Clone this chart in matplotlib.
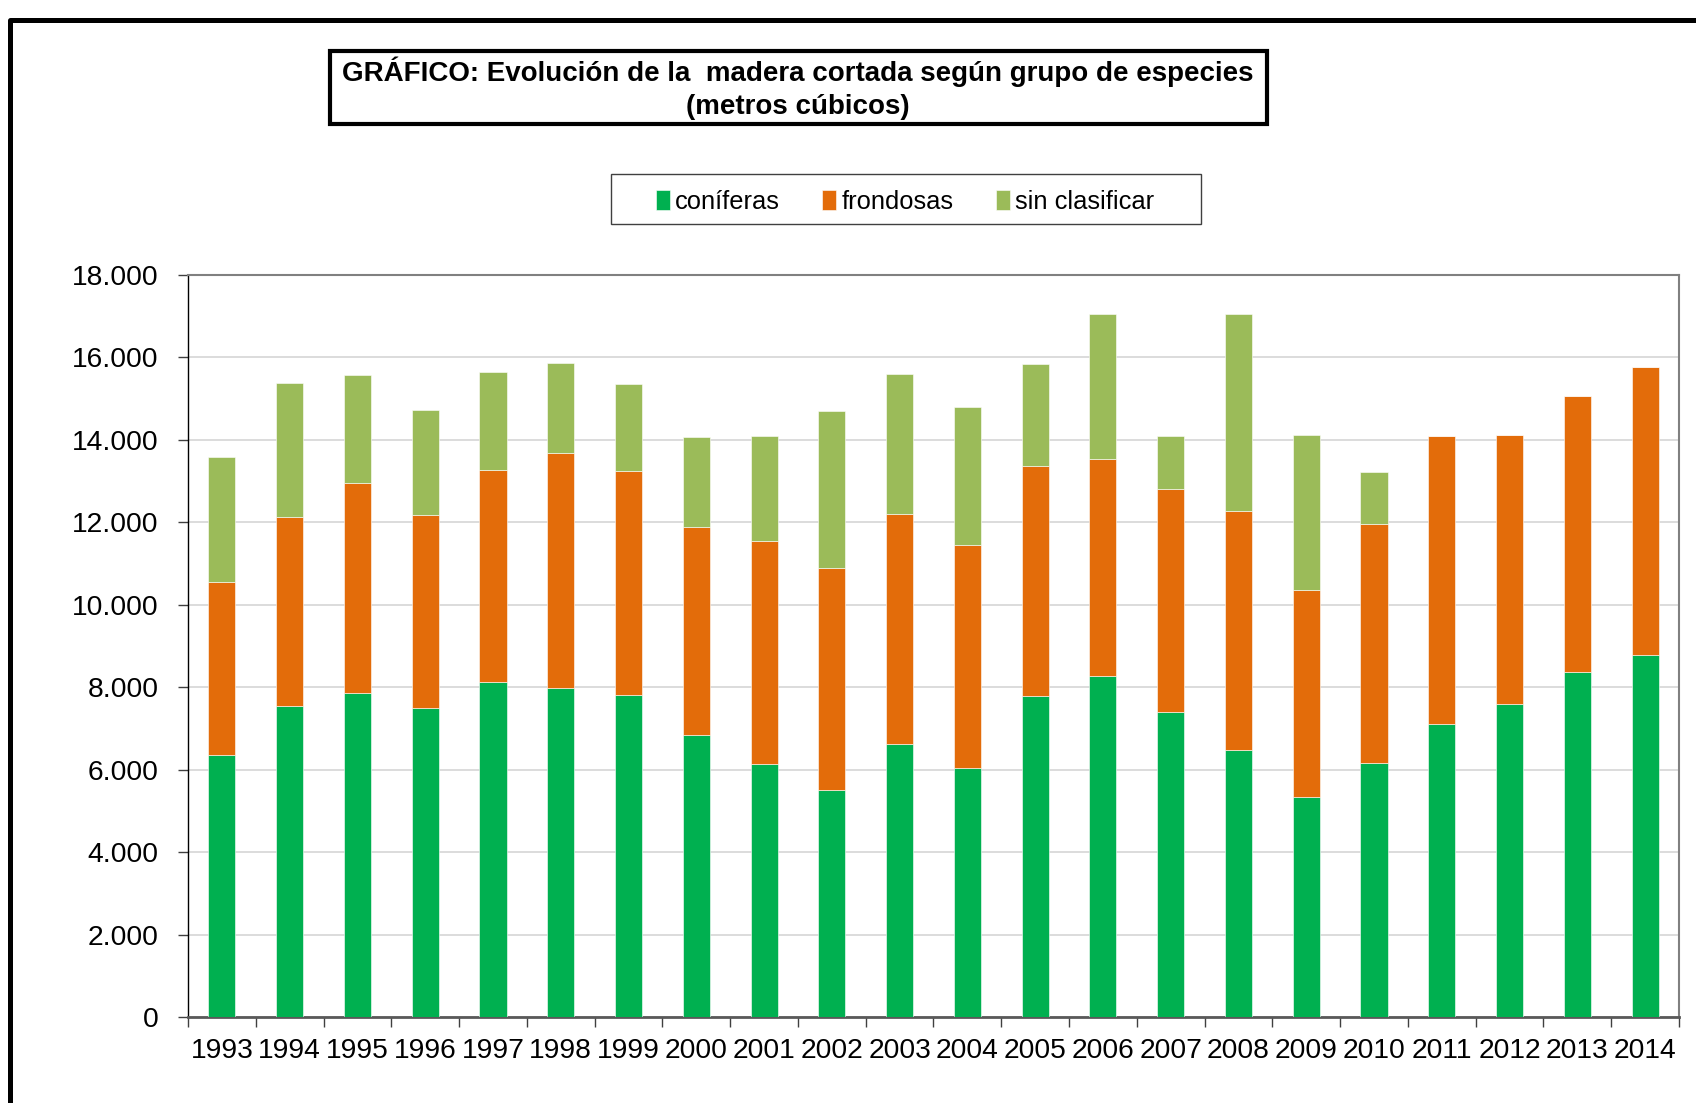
import matplotlib
matplotlib.use('Agg')

import matplotlib.pyplot as plt
import numpy as np
from matplotlib.lines import Line2D
from matplotlib.patches import Rectangle
from matplotlib.ticker import FuncFormatter, FixedLocator

plt.rcParams['font.family'] = ['Liberation Sans', 'DejaVu Sans']

years = ['1993', '1994', '1995', '1996', '1997', '1998', '1999', '2000',
         '2001', '2002', '2003', '2004', '2005', '2006', '2007', '2008',
         '2009', '2010', '2011', '2012', '2013', '2014']

coniferas = [6365, 7539, 7871, 7498, 8138, 7976, 7806, 6834, 6140, 5510, 6624,
             6035, 7798, 8267, 7393, 6486, 5327, 6166, 7110, 7595, 8364, 8777]
frondosas = [4186, 4599, 5076, 4672, 5125, 5700, 5441, 5053, 5399, 5381, 5570,
             5406, 5562, 5263, 5417, 5789, 5021, 5786, 6979, 6518, 6689, 6980]
sin_clasificar = [3036, 3247, 2624, 2559, 2389, 2194, 2105, 2194, 2558, 3813, 3401,
                  3361, 2478, 3523, 1287, 4778, 3765, 1279, 0, 0, 0, 0]

series = [('coníferas', coniferas, '#00B050'),
          ('frondosas', frondosas, '#E36C0A'),
          ('sin clasificar', sin_clasificar, '#9BBB59')]

W, H = 1696, 1103


def thousands(v, pos):
    return f'{v:,.0f}'.replace(',', '.')


fig = plt.figure(figsize=(W / 100, H / 100), dpi=100)
ax = fig.add_axes([188 / W, 1 - 1017 / H, (1679 - 188) / W, (1017 - 275) / H])

x = np.arange(len(years))
bottom = np.zeros(len(years))
for label, values, color in series:
    ax.bar(x, values, width=0.4, bottom=bottom, color=color, label=label,
           edgecolor='white', linewidth=0.4, zorder=3)
    bottom += np.array(values)

ax.set_xlim(-0.5, len(years) - 0.5)
ax.set_ylim(0, 18000)
ax.set_yticks(np.arange(0, 18001, 2000))
ax.yaxis.set_major_formatter(FuncFormatter(thousands))
ax.grid(axis='y', color='#D9D9D9', linewidth=1.3, zorder=0)

# years centred under bars, tick marks between categories
ax.set_xticks(x)
ax.set_xticklabels(years)
ax.xaxis.set_minor_locator(FixedLocator(np.arange(-0.5, len(years), 1)))
ax.tick_params(axis='x', which='major', length=0, pad=15, labelsize=20.3)
ax.tick_params(axis='x', which='minor', length=7, width=1, color='#404040', direction='out')
ax.tick_params(axis='y', length=7, width=1, color='#404040', pad=14, labelsize=20.3)

ax.spines['left'].set_color('black')
ax.spines['left'].set_linewidth(1)
ax.spines['bottom'].set_color('#595959')
ax.spines['bottom'].set_linewidth(2)
ax.spines['top'].set_color('#808080')
ax.spines['top'].set_linewidth(1.5)
ax.spines['right'].set_color('#808080')
ax.spines['right'].set_linewidth(1.5)

# legend, frame drawn separately so it can be wider than its entries
fig.legend(loc='center', bbox_to_anchor=(905 / W, 1 - 202 / H), ncol=3,
           fontsize=18.4, frameon=False, handlelength=0.55, handleheight=0.8,
           handletextpad=0.2, columnspacing=1.65)
fig.add_artist(Rectangle((611 / W, 1 - 224 / H), (1201 - 611) / W, 50 / H,
                         transform=fig.transFigure, fill=False,
                         edgecolor='#404040', linewidth=1))

# title box
fig.add_artist(Rectangle((330 / W, 1 - 124 / H), (1267 - 330) / W, 73 / H,
                         transform=fig.transFigure, fill=False,
                         edgecolor='black', linewidth=3))
fig.text(798 / W, 1 - 72 / H, 'GRÁFICO: Evolución de la  madera cortada según grupo de especies',
         ha='center', va='center', fontsize=20, fontweight='bold')
fig.text(798 / W, 1 - 107 / H, '(metros cúbicos)',
         ha='center', va='center', fontsize=20, fontweight='bold')

# outer frame, only top and left edges visible
fig.add_artist(Line2D([10 / W, 10 / W, 1.0], [0.0, 1 - 20 / H, 1 - 20 / H],
                      transform=fig.transFigure, color='black', linewidth=3.6))

fig.savefig('out.png', dpi=100)
